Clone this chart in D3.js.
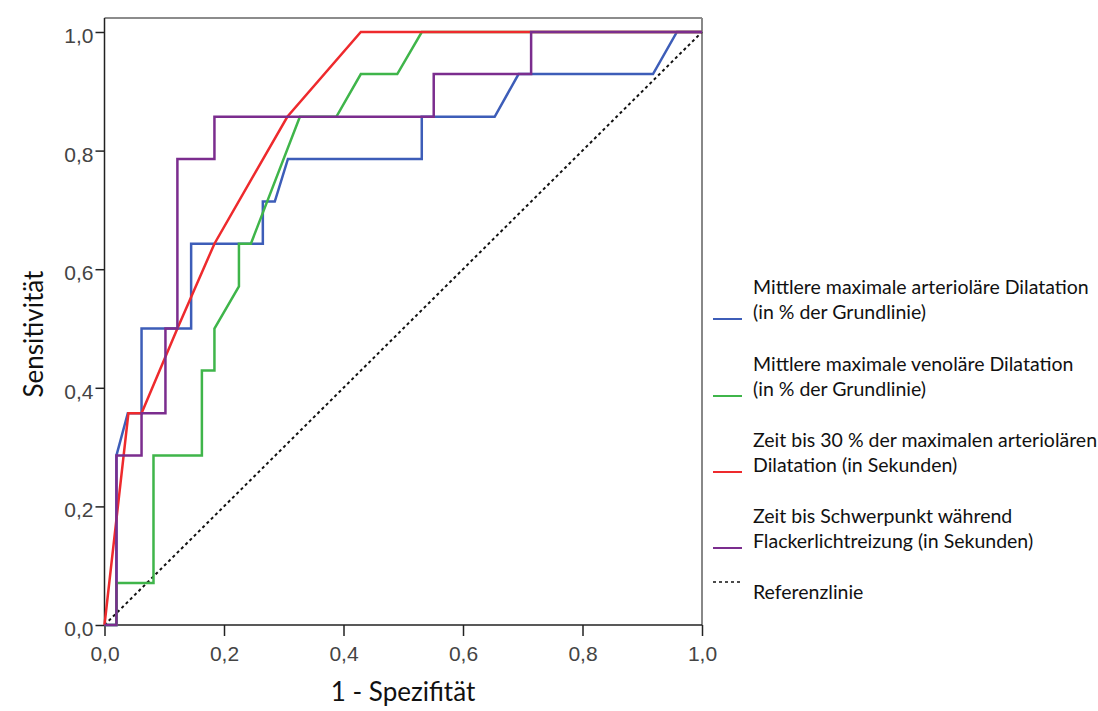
<!DOCTYPE html>
<html>
<head>
<meta charset="utf-8">
<script src="https://cdn.jsdelivr.net/npm/d3@7"></script>
<style>
  body { margin: 0; background: #fff; }
  svg { display: block; }
</style>
</head>
<body>
<div id="chart"></div>
<script>
var chart_width  = 1098;
var chart_height = 711;

// ROC curves: 1 - Spezifität (fpr) and Sensitivität (tpr)
var series_names = [
  ['Mittlere maximale arterioläre Dilatation', '(in % der Grundlinie)'],
  ['Mittlere maximale venoläre Dilatation', '(in % der Grundlinie)'],
  ['Zeit bis 30 % der maximalen arteriolären', 'Dilatation (in Sekunden)'],
  ['Zeit bis Schwerpunkt während', 'Flackerlichtreizung (in Sekunden)']
];
var ref_name = 'Referenzlinie';

var blue_fpr = [0, 0.02, 0.02, 0.039, 0.062, 0.062, 0.145, 0.145, 0.265, 0.265, 0.285, 0.307, 0.531, 0.531, 0.653, 0.693, 0.918, 0.958, 1];
var blue_tpr = [0, 0, 0.286, 0.357, 0.357, 0.5, 0.5, 0.643, 0.643, 0.714, 0.714, 0.786, 0.786, 0.857, 0.857, 0.929, 0.929, 1, 1];

var green_fpr = [0, 0.02, 0.02, 0.082, 0.082, 0.163, 0.163, 0.184, 0.184, 0.225, 0.225, 0.245, 0.327, 0.388, 0.429, 0.49, 0.531, 1];
var green_tpr = [0, 0, 0.071, 0.071, 0.286, 0.286, 0.429, 0.429, 0.5, 0.571, 0.643, 0.643, 0.857, 0.857, 0.929, 0.929, 1, 1];

var red_fpr = [0, 0.04, 0.062, 0.122, 0.184, 0.306, 0.429, 1];
var red_tpr = [0, 0.357, 0.357, 0.5, 0.643, 0.857, 1, 1];

var purple_fpr = [0, 0.02, 0.02, 0.062, 0.062, 0.102, 0.102, 0.122, 0.122, 0.184, 0.184, 0.551, 0.551, 0.714, 0.714, 1];
var purple_tpr = [0, 0, 0.286, 0.286, 0.357, 0.357, 0.5, 0.5, 0.786, 0.786, 0.857, 0.857, 0.929, 0.929, 1, 1];

var ref_fpr = [0, 1];
var ref_tpr = [0, 1];

var tick_values = [0, 0.2, 0.4, 0.6, 0.8, 1.0];

var colors = ['#3d5db8', '#3fb54a', '#ee2a2d', '#7b2d8e'];

var curves = [
  {fpr: blue_fpr, tpr: blue_tpr},
  {fpr: green_fpr, tpr: green_tpr},
  {fpr: red_fpr, tpr: red_tpr},
  {fpr: purple_fpr, tpr: purple_tpr}
];

var svg = d3.select('#chart')
  .append('svg')
  .attr('width', chart_width)
  .attr('height', chart_height)
  .style('background', '#fff');

var x_scale = d3.scaleLinear().domain([0, 1]).range([104.5, 702]);
var y_scale = d3.scaleLinear().domain([0, 1]).range([625, 32]);
var frame_top = 18;

var fmt = function(d) { return d3.format('.1f')(d).replace('.', ','); };

// frame (top and right are grey, left and bottom are the axes)
svg.append('line')
  .attr('x1', x_scale(0)).attr('x2', x_scale(1))
  .attr('y1', frame_top).attr('y2', frame_top)
  .attr('stroke', '#666').attr('stroke-width', 1.5);
svg.append('line')
  .attr('x1', x_scale(1)).attr('x2', x_scale(1))
  .attr('y1', frame_top).attr('y2', y_scale(0))
  .attr('stroke', '#888').attr('stroke-width', 2);

// axes
var x_axis = d3.axisBottom(x_scale)
  .tickValues(tick_values)
  .tickFormat(fmt)
  .tickSize(11)
  .tickPadding(10)
  .tickSizeOuter(0);

var y_axis = d3.axisLeft(y_scale)
  .tickValues(tick_values)
  .tickFormat(fmt)
  .tickSize(9)
  .tickPadding(2)
  .tickSizeOuter(0);

var gx = svg.append('g')
  .attr('transform', 'translate(0,' + y_scale(0) + ')')
  .call(x_axis);

var gy = svg.append('g')
  .attr('transform', 'translate(' + x_scale(0) + ',0)')
  .call(y_axis);

[gx, gy].forEach(function(g) {
  g.select('.domain').remove();
  g.selectAll('.tick line').attr('stroke', '#222').attr('stroke-width', 1.5);
  g.selectAll('.tick text')
    .attr('fill', '#444')
    .style('font-family', '"Liberation Sans", Arial, sans-serif')
    .style('font-size', '21px');
});
gy.selectAll('.tick text').attr('dy', '0.5em');

svg.append('line')
  .attr('x1', x_scale(0)).attr('x2', x_scale(1))
  .attr('y1', y_scale(0)).attr('y2', y_scale(0))
  .attr('stroke', '#222').attr('stroke-width', 1.5);
svg.append('line')
  .attr('x1', x_scale(0)).attr('x2', x_scale(0))
  .attr('y1', frame_top).attr('y2', y_scale(0))
  .attr('stroke', '#222').attr('stroke-width', 1.5);

// reference line
var line = d3.line()
  .x(function(d) { return x_scale(d[0]); })
  .y(function(d) { return y_scale(d[1]); });

svg.append('path')
  .attr('d', line(d3.zip(ref_fpr, ref_tpr)))
  .attr('fill', 'none')
  .attr('stroke', '#111')
  .attr('stroke-width', 2)
  .attr('stroke-dasharray', '3,3');

// ROC curves
curves.forEach(function(c, i) {
  svg.append('path')
    .attr('d', line(d3.zip(c.fpr, c.tpr)))
    .attr('fill', 'none')
    .attr('stroke', colors[i])
    .attr('stroke-width', 2.5)
    .attr('stroke-linejoin', 'miter');
});

// axis titles
var title_font = 'Lato, "Open Sans", sans-serif';
svg.append('text')
  .text('1 - Spezifität')
  .attr('x', 403)
  .attr('y', 701)
  .attr('text-anchor', 'middle')
  .style('font-family', title_font)
  .style('font-size', '26px')
  .attr('fill', '#111');

svg.append('text')
  .text('Sensitivität')
  .attr('transform', 'translate(43,334) rotate(-90)')
  .attr('text-anchor', 'middle')
  .style('font-family', title_font)
  .style('font-size', '26px')
  .attr('fill', '#111');

// legend
var legend_top = [294, 371, 447, 523];
var legend = svg.append('g');
series_names.forEach(function(names, i) {
  legend.append('line')
    .attr('x1', 713).attr('x2', 742)
    .attr('y1', legend_top[i] + 25).attr('y2', legend_top[i] + 25)
    .attr('stroke', colors[i]).attr('stroke-width', 2);
  names.forEach(function(t, j) {
    legend.append('text')
      .text(t)
      .attr('x', 753)
      .attr('y', legend_top[i] + j * 25)
      .style('font-family', title_font)
      .style('font-size', '19.5px')
      .attr('fill', '#111');
  });
});
legend.append('line')
  .attr('x1', 713).attr('x2', 742)
  .attr('y1', 582).attr('y2', 582)
  .attr('stroke', '#111').attr('stroke-width', 1.5)
  .attr('stroke-dasharray', '3,3');
legend.append('text')
  .text(ref_name)
  .attr('x', 753)
  .attr('y', 599)
  .style('font-family', title_font)
  .style('font-size', '19.5px')
  .attr('fill', '#111');
</script>
</body>
</html>
